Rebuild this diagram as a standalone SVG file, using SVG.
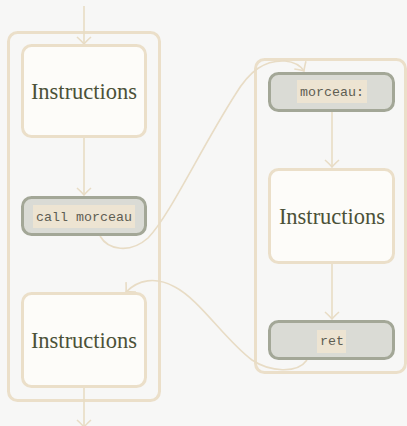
<svg xmlns="http://www.w3.org/2000/svg" width="407" height="426" viewBox="0 0 407 426">
<defs>
<style>
.cluster{fill:none;stroke:#ebdfc9;stroke-width:3}
.node{fill:#fdfcf9;stroke:#ebdfc9;stroke-width:3}
.code{fill:#dadbd5;stroke:#a3a797;stroke-width:3}
.codebg{fill:#ede4d2}
.edge{fill:none;stroke:#e8dcc5;stroke-width:1.6}
.label{font-family:"Liberation Serif","DejaVu Serif",serif;font-size:22.5px;fill:#4b5138;text-anchor:middle}
.mono{font-family:"Liberation Mono","DejaVu Sans Mono",monospace;font-size:13.3px;fill:#5e5e52;text-anchor:middle}
</style>
<marker id="arr" markerUnits="userSpaceOnUse" markerWidth="20" markerHeight="20" refX="0" refY="0" viewBox="-10 -10 20 20" orient="auto" overflow="visible">
<path d="M -7,-7 Q -2,-1.5 0,0 Q -2,1.5 -7,7" fill="none" stroke="#e8dcc5" stroke-width="1.6"/>
</marker>
</defs>
<rect width="407" height="426" fill="#f7f7f6"/>
<rect class="cluster" x="8.5" y="32.5" width="151" height="368" rx="9"/>
<rect class="cluster" x="255.5" y="59.5" width="150" height="313" rx="9"/>
<g id="edges">
<path class="edge" d="M84,6 L84,44" marker-end="url(#arr)"/>
<path class="edge" d="M84,138 L84,195" marker-end="url(#arr)"/>
<path class="edge" d="M84,388 L84,427" marker-end="url(#arr)"/>
<path class="edge" d="M332,112 L332,167" marker-end="url(#arr)"/>
<path class="edge" d="M332,264 L332,319" marker-end="url(#arr)"/>
<path class="edge" d="M100,236 C108,250 130,254 148,238 C170,215 200,150 235,95 C250,70 265,60 285,61 C295,62 300,65 304,71" marker-end="url(#arr)"/>
<path class="edge" d="M307,360 C297,374 270,372 252,360 C225,340 200,300 175,287 C155,276 138,280 126,292" marker-end="url(#arr)"/>
</g>
<g id="n1">
<rect class="node" x="22.5" y="45.5" width="123" height="91" rx="9"/>
<text class="label" x="84" y="99">Instructions</text>
</g>
<g id="n2">
<rect class="code" x="22.5" y="197.5" width="123" height="37" rx="9"/>
<rect class="codebg" x="33" y="205" width="102" height="23"/>
<text class="mono" x="84" y="220.5">call morceau</text>
</g>
<g id="n3">
<rect class="node" x="22.5" y="293.5" width="123" height="93" rx="9"/>
<text class="label" x="84" y="348">Instructions</text>
</g>
<g id="n4">
<rect class="code" x="269.5" y="73.5" width="124" height="37" rx="9"/>
<rect class="codebg" x="297" y="80" width="70" height="23"/>
<text class="mono" x="332" y="96">morceau:</text>
</g>
<g id="n5">
<rect class="node" x="269.5" y="169.5" width="124" height="93" rx="9"/>
<text class="label" x="332" y="224">Instructions</text>
</g>
<g id="n6">
<rect class="code" x="269.5" y="321.5" width="124" height="37" rx="9"/>
<rect class="codebg" x="317" y="330" width="29" height="23"/>
<text class="mono" x="332" y="345">ret</text>
</g>
</svg>
